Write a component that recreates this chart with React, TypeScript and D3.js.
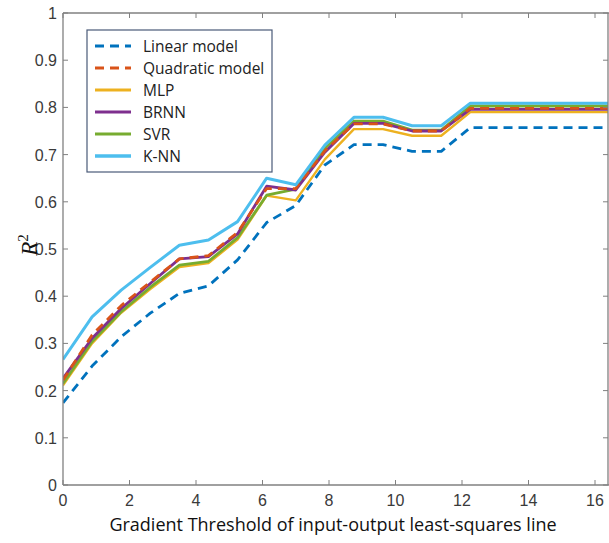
import React from "react";
import * as d3 from "d3";

const xs = [0, 0.875, 1.75, 2.625, 3.5, 4.375, 5.25, 6.125, 7.0, 7.875, 8.75, 9.625, 10.5, 11.375, 12.25, 13.125, 14.0, 14.875, 15.75, 16.625];

const linearModel = [0.174, 0.252, 0.314, 0.364, 0.406, 0.422, 0.477, 0.556, 0.592, 0.678, 0.721, 0.721, 0.707, 0.707, 0.757, 0.757, 0.757, 0.757, 0.757, 0.757];
const quadraticModel = [0.222, 0.318, 0.38, 0.43, 0.479, 0.486, 0.535, 0.628, 0.628, 0.708, 0.765, 0.765, 0.75, 0.75, 0.798, 0.798, 0.798, 0.798, 0.798, 0.798];
const mlp = [0.211, 0.3, 0.365, 0.415, 0.462, 0.47, 0.52, 0.613, 0.603, 0.69, 0.754, 0.754, 0.74, 0.74, 0.79, 0.79, 0.79, 0.79, 0.79, 0.79];
const brnn = [0.226, 0.311, 0.374, 0.427, 0.479, 0.484, 0.532, 0.633, 0.625, 0.705, 0.766, 0.766, 0.75, 0.75, 0.796, 0.796, 0.796, 0.796, 0.796, 0.796];
const svr = [0.215, 0.304, 0.367, 0.419, 0.466, 0.474, 0.524, 0.614, 0.627, 0.713, 0.771, 0.771, 0.752, 0.752, 0.803, 0.803, 0.803, 0.803, 0.803, 0.803];
const knn = [0.266, 0.356, 0.413, 0.461, 0.508, 0.519, 0.558, 0.65, 0.636, 0.72, 0.779, 0.779, 0.761, 0.761, 0.809, 0.809, 0.809, 0.809, 0.809, 0.809];

const seriesNames = ["Linear model", "Quadratic model", "MLP", "BRNN", "SVR", "K-NN"];
const seriesValues = [linearModel, quadraticModel, mlp, brnn, svr, knn];
const seriesColors = ["#0072BD", "#D95319", "#EDB120", "#7E2F8E", "#77AC30", "#4DBEEE"];
const seriesDashed = [true, true, false, false, false, false];
const seriesWidths = [2.8, 2.8, 2.4, 2.8, 2.8, 3.0];

const xTicks = [0, 2, 4, 6, 8, 10, 12, 14, 16];
const yTicks = [0, 0.1, 0.2, 0.3, 0.4, 0.5, 0.6, 0.7, 0.8, 0.9, 1];

const xTitle = "Gradient Threshold of input-output least-squares line";

export default function App() {
  const W = 609, H = 543;
  const left = 63, right = 608, top = 13, bottom = 485;
  const x = d3.scaleLinear().domain([0, 16]).range([63, 595]);
  const y = d3.scaleLinear().domain([0, 1]).range([bottom, top]);
  const line = d3.line<number>().x((_, i) => x(xs[i])).y((d) => y(d));
  const axisColor = "#808080";
  const tickLen = 5;

  return (
    <svg width={W} height={H} style={{ position: "absolute", left: 0, top: 0, background: "#fff" }}>
      <defs>
        <clipPath id="plotClip">
          <rect x={left} y={top} width={right - left} height={bottom - top} />
        </clipPath>
      </defs>
      <rect x={0} y={0} width={W} height={H} fill="#fff" />
      <g clipPath="url(#plotClip)">
        {[0, 2, 4, 3, 1, 5].map((k) => (
          <path
            key={k}
            d={line(seriesValues[k]) || ""}
            fill="none"
            stroke={seriesColors[k]}
            strokeWidth={seriesWidths[k]}
            strokeDasharray={seriesDashed[k] ? "9,6" : undefined}
            strokeLinejoin="round"
          />
        ))}
      </g>
      <line x1={left} y1={top} x2={left} y2={bottom} stroke={axisColor} strokeWidth={1.3} />
      <line x1={left} y1={bottom} x2={right + 1} y2={bottom} stroke={axisColor} strokeWidth={1.3} />
      <line x1={left} y1={top} x2={right + 1} y2={top} stroke={axisColor} strokeWidth={1.3} />
      <line x1={right} y1={top} x2={right} y2={bottom} stroke={axisColor} strokeWidth={1.3} />
      {xTicks.map((t) => (
        <g key={"xt" + t}>
          <line x1={x(t)} x2={x(t)} y1={bottom} y2={bottom - tickLen} stroke={axisColor} strokeWidth={1} />
          <line x1={x(t)} x2={x(t)} y1={top} y2={top + tickLen} stroke={axisColor} strokeWidth={1} />
          <text x={x(t)} y={bottom + 21} textAnchor="middle" fontFamily="Liberation Sans, Arial, sans-serif" fontSize={16} fill="#3a3a3a">
            {t}
          </text>
        </g>
      ))}
      {yTicks.map((t) => (
        <g key={"yt" + t}>
          <line x1={left} x2={left + tickLen} y1={y(t)} y2={y(t)} stroke={axisColor} strokeWidth={1} />
          <line x1={right} x2={right - tickLen} y1={y(t)} y2={y(t)} stroke={axisColor} strokeWidth={1} />
          <text x={left - 6} y={y(t) + 6} textAnchor="end" fontFamily="Liberation Sans, Arial, sans-serif" fontSize={16} fill="#3a3a3a">
            {t}
          </text>
        </g>
      ))}
      <text x={333} y={531} textAnchor="middle" fontFamily="Open Sans, Noto Sans, sans-serif" fontSize={18} fill="#111">
        {xTitle}
      </text>
      <text transform="translate(37,245) rotate(-90)" textAnchor="middle" fontFamily="Liberation Serif, DejaVu Serif, serif" fontSize={23} fill="#111">
        <tspan fontStyle="italic">R</tspan>
        <tspan fontSize={15} dy={-9}>2</tspan>
      </text>
      <rect x={87} y={30} width={185} height={142} fill="#fff" stroke="#4a5a78" strokeWidth={1.2} />
      {seriesNames.map((n, i) => {
        const ly = 46 + i * 22;
        return (
          <g key={n}>
            <line
              x1={95}
              x2={131}
              y1={ly}
              y2={ly}
              stroke={seriesColors[i]}
              strokeWidth={seriesWidths[i] + 0.4}
              strokeDasharray={seriesDashed[i] ? "9,6" : undefined}
            />
            <text x={143} y={ly + 5.5} fontFamily="Open Sans, Noto Sans, sans-serif" fontSize={15.5} fill="#222">
              {n}
            </text>
          </g>
        );
      })}
    </svg>
  );
}
